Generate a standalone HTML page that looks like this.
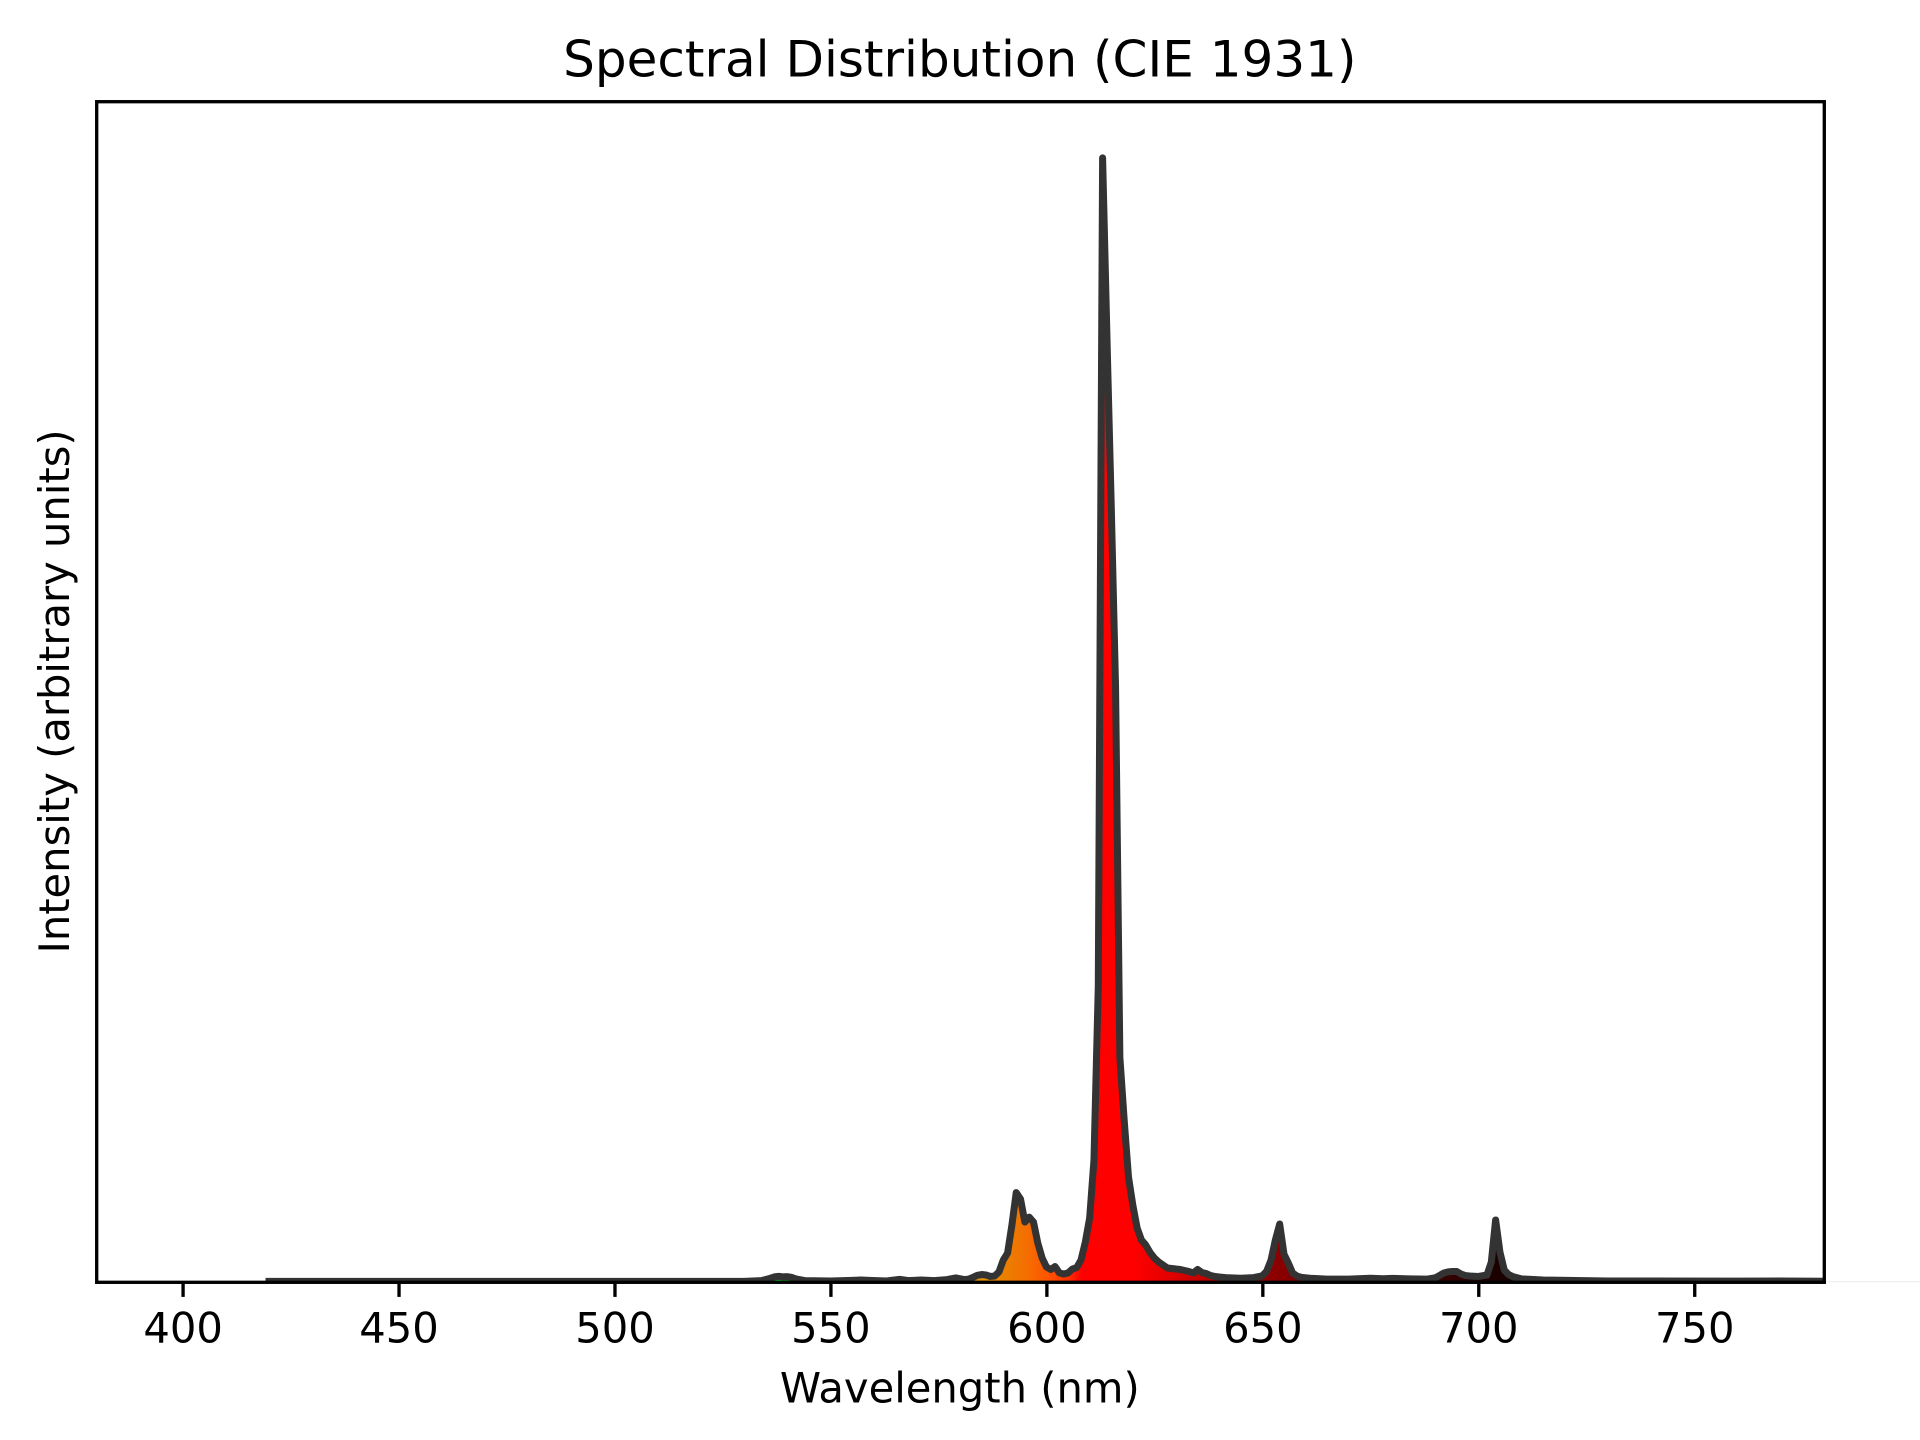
<!DOCTYPE html>
<html lang="en">
<head>
<meta charset="utf-8">
<title>Spectral Distribution (CIE 1931)</title>
<style>
html,body{margin:0;padding:0;background:#fff;}
svg{display:block;}
text{font-family:"DejaVu Sans",sans-serif;fill:#000;}
</style>
</head>
<body>
<svg id="chart" xmlns="http://www.w3.org/2000/svg" width="1920" height="1440" viewBox="0 0 1920 1440">
  <rect x="0" y="0" width="1920" height="1440" fill="#ffffff"/>
  <line x1="1826" y1="1281.7" x2="1920" y2="1281.7" stroke="#ececec" stroke-width="1"/>
  <defs>
    <clipPath id="axes-clip"><rect x="96.7" y="101.7" width="1727.6" height="1180.6"/></clipPath>
    <linearGradient id="spectrum-gradient" gradientUnits="userSpaceOnUse"></linearGradient>
  </defs>
  <g id="plot" clip-path="url(#axes-clip)"></g>
  <rect x="96.7" y="101.7" width="1727.6" height="1180.6" fill="none" stroke="#000" stroke-width="3.33"/>
  <g id="ticks"></g>
  <text x="959.8" y="76.5" font-size="50" text-anchor="middle">Spectral Distribution (CIE 1931)</text>
  <text x="959.8" y="1402.4" font-size="41.67" text-anchor="middle">Wavelength (nm)</text>
  <text transform="translate(68.8,691.4) rotate(-90)" font-size="41.67" text-anchor="middle">Intensity (arbitrary units)</text>
</svg>
<script>
const tickLabels = [400, 450, 500, 550, 600, 650, 700, 750];
const wavelengths = [420,500,530,534,536,537,538,539,540,541,542,544,550,555,557,559,563,566,568,571,574,577,579,581,582,583,584,585,586,587,588,589,590,591,592,593,594,595,596,597,598,599,600,601,602,603,604,605,606,607,608,609,610,611,612,613,614,615,616,617,618,619,620,621,622,623,624,625,626,627,628,629,630,631,632,633,634,635,636,637,638,639,640,642,645,648,650,651,652,653,654,655,656,657,658,659,661,665,670,675,678,680,684,688,690,691,692,693,694,695,696,697,698,700,702,703,704,705,706,707,708,710,715,730,760,770,780];
const intensities = [.0008,.0008,.0008,.0015,.0035,.0048,.0053,.0048,.005,.0044,.003,.0015,.0012,.0017,.002,.0017,.0012,.0026,.0015,.002,.0015,.0024,.0039,.0024,.0028,.0044,.0062,.0069,.0065,.0052,.0056,.0092,.0198,.026,.0509,.0798,.074,.0536,.058,.0536,.0349,.0216,.0136,.0114,.014,.0083,.0074,.0083,.0118,.0131,.0198,.0358,.0571,.1087,.2633,1,.842,.691,.53,.2002,.1441,.0935,.0686,.0482,.0376,.0331,.0265,.0216,.018,.0154,.0127,.0123,.0118,.0114,.0105,.0096,.0083,.0114,.0087,.0078,.006,.0052,.0047,.004,.0036,.0042,.0058,.01,.0198,.0376,.0518,.0251,.0171,.0083,.0056,.0044,.0036,.0028,.0028,.0036,.0032,.0035,.003,.0028,.004,.006,.0083,.0093,.0096,.0096,.0074,.006,.0056,.0052,.0065,.018,.0554,.0269,.0109,.0069,.005,.003,.002,.0012,.001,.0012,.0009];
const colorWavelengths = [420,470,500,520,540,560,575,585,595,600,605,608,620,630,640,654,670,695,704,720,780];
const colorValues = ['#2000a0','#0040ff','#00b0ff','#00f060','#00d000','#80d000','#d0b000','#e29000','#f37000','#ff5500','#ff3000','#ff0000','#ff0000','#dd0000','#b00000','#8a0000','#600000','#300000','#1c0000','#0a0000','#000000'];

const SVG_NS = 'http://www.w3.org/2000/svg';
const xMin = 380, xMax = 780, yMin = 0, yMax = 1.05;
const plotLeft = 96.7, plotRight = 1824.3, plotTop = 101.7, plotBottom = 1282.3;
const sampleShift = -0.1;

function xScale(w) { return plotLeft + (w - xMin) / (xMax - xMin) * (plotRight - plotLeft); }
function yScale(v) { return plotBottom - (v - yMin) / (yMax - yMin) * (plotBottom - plotTop); }

const curvePoints = wavelengths.map(function (w, i) {
  return xScale(w + sampleShift).toFixed(2) + ',' + yScale(intensities[i]).toFixed(2);
});

const gradient = document.getElementById('spectrum-gradient');
gradient.setAttribute('x1', xScale(xMin));
gradient.setAttribute('x2', xScale(xMax));
gradient.setAttribute('y1', 0);
gradient.setAttribute('y2', 0);
colorWavelengths.forEach(function (w, i) {
  const stop = document.createElementNS(SVG_NS, 'stop');
  stop.setAttribute('offset', (w - xMin) / (xMax - xMin));
  stop.setAttribute('stop-color', colorValues[i]);
  gradient.appendChild(stop);
});

const plot = document.getElementById('plot');

const area = document.createElementNS(SVG_NS, 'path');


area.setAttribute('d', 'M' + xScale(wavelengths[0] + sampleShift).toFixed(2) + ',' + yScale(0) + ' L' + curvePoints.join(' L') + ' L' + xScale(wavelengths[wavelengths.length - 1] + sampleShift).toFixed(2) + ',' + yScale(0) + ' Z');
area.setAttribute('fill', 'url(#spectrum-gradient)');
plot.appendChild(area);

const line = document.createElementNS(SVG_NS, 'polyline');


line.setAttribute('points', curvePoints.join(' '));
line.setAttribute('fill', 'none');
line.setAttribute('stroke', '#333333');
line.setAttribute('stroke-width', '7');
line.setAttribute('stroke-linejoin', 'round');
line.setAttribute('stroke-linecap', 'square');
plot.appendChild(line);

const ticks = document.getElementById('ticks');
tickLabels.forEach(function (t) {
  const x = xScale(t);
  const mark = document.createElementNS(SVG_NS, 'line');
  
  
  mark.setAttribute('x1', x);
  mark.setAttribute('x2', x);
  mark.setAttribute('y1', plotBottom);
  mark.setAttribute('y2', plotBottom + 14.6);
  mark.setAttribute('stroke', '#000');
  mark.setAttribute('stroke-width', '3.33');
  ticks.appendChild(mark);
  const label = document.createElementNS(SVG_NS, 'text');
  
  
  label.setAttribute('x', x);
  label.setAttribute('y', 1342.6);
  label.setAttribute('font-size', '41.67');
  label.setAttribute('text-anchor', 'middle');
  label.textContent = String(t);
  ticks.appendChild(label);
});
</script>
</body>
</html>
